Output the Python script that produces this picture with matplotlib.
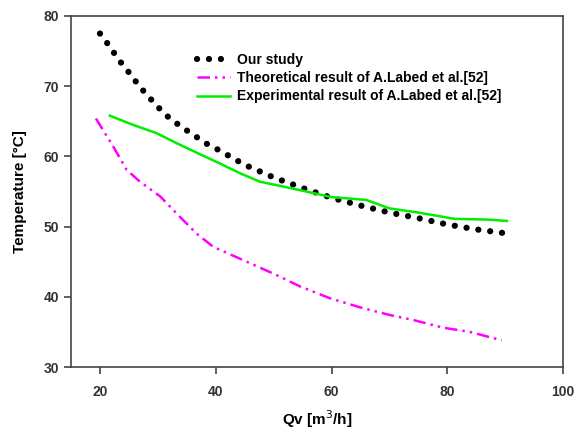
import numpy as np
import matplotlib
matplotlib.use("Agg")
import matplotlib.pyplot as plt

plt.rcParams['font.family'] = ['Liberation Sans', 'DejaVu Sans']

# our study
qv_ours = [20, 21.2, 22.3, 23.3, 24.5, 25.8, 26.9, 28.2, 29.6, 31.0, 32.5, 34.2, 35.8, 37.4,
           38.8, 40.3, 45, 50, 55, 60, 65, 70, 75, 80, 85, 89.6]
t_ours = [77.5, 76.2, 74.9, 73.7, 72.5, 71.1, 69.9, 68.7, 67.4, 66.2, 65.1, 64.2, 63.2, 62.4,
          61.6, 61.0, 58.8, 57.0, 55.5, 54.1, 53.0, 52.0, 51.2, 50.3, 49.6, 49.1]

# theoretical (A.Labed)
qv_theo = [19.3, 22.3, 24.6, 26.9, 30.4, 33.8, 36.7, 39.6, 45.9, 50.5, 54.5, 59.7, 64.9,
           70.1, 74.1, 79.3, 83.9, 89.4]
t_theo = [65.4, 61.4, 58.1, 56.4, 54.3, 51.4, 49.0, 47.1, 44.8, 43.1, 41.5, 39.8, 38.5,
          37.4, 36.7, 35.6, 35.0, 33.8]

# experimental (A.Labed)
qv_exp = [21.7, 25.7, 29.8, 33.2, 37.3, 40.7, 44.2, 47.6, 51.1, 54.5, 60, 66, 70, 75, 81.3, 87, 90.3]
t_exp = [65.8, 64.5, 63.3, 61.9, 60.3, 59.0, 57.6, 56.4, 55.8, 55.2, 54.2, 53.8, 52.6, 52.0,
         51.1, 51.0, 50.8]

fig = plt.figure(figsize=(5.74, 4.30), dpi=100)
ax = fig.add_axes([0.1237, 0.1465, 0.8573, 0.8163])

ax.plot(qv_ours, t_ours, color='black', lw=4.5, ls=(0, (0.01, 1.9)),
        dash_capstyle='round', label='Our study')
ax.plot(qv_theo, t_theo, color='#ff00ff', lw=1.8, ls=(0, (5, 2, 1, 2, 1, 2)),
        label='Theoretical result of A.Labed et al.[52]')
ax.plot(qv_exp, t_exp, color='#00ee00', lw=1.8, label='Experimental result of A.Labed et al.[52]')

ax.set_xlim(15, 100)
ax.set_ylim(30, 80)
ax.set_xticks([20, 40, 60, 80, 100])
ax.set_yticks([30, 40, 50, 60, 70, 80])
for s in ax.spines.values():
    s.set_color('#444444')
    s.set_linewidth(1.2)
ax.tick_params(direction='out', length=5, width=1.2, color='#444444', labelsize=10)
ax.tick_params(axis='x', pad=8)
for lab in ax.get_xticklabels() + ax.get_yticklabels():
    lab.set_fontweight('bold')
    lab.set_color('#333333')

ax.set_xlabel('Qv [m$^3$/h]', fontsize=11, fontweight='bold')
ax.xaxis.set_label_coords(0.5, -0.118)
ax.set_ylabel('Temperature [°C]', fontsize=11, fontweight='bold', labelpad=12)

leg = ax.legend(loc='upper left', bbox_to_anchor=(0.23, 0.93), frameon=False,
                prop={'size': 10, 'weight': 'bold'}, handlelength=2.4, handletextpad=0.5,
                labelspacing=0.3)

fig.savefig('out.png', dpi=100)
